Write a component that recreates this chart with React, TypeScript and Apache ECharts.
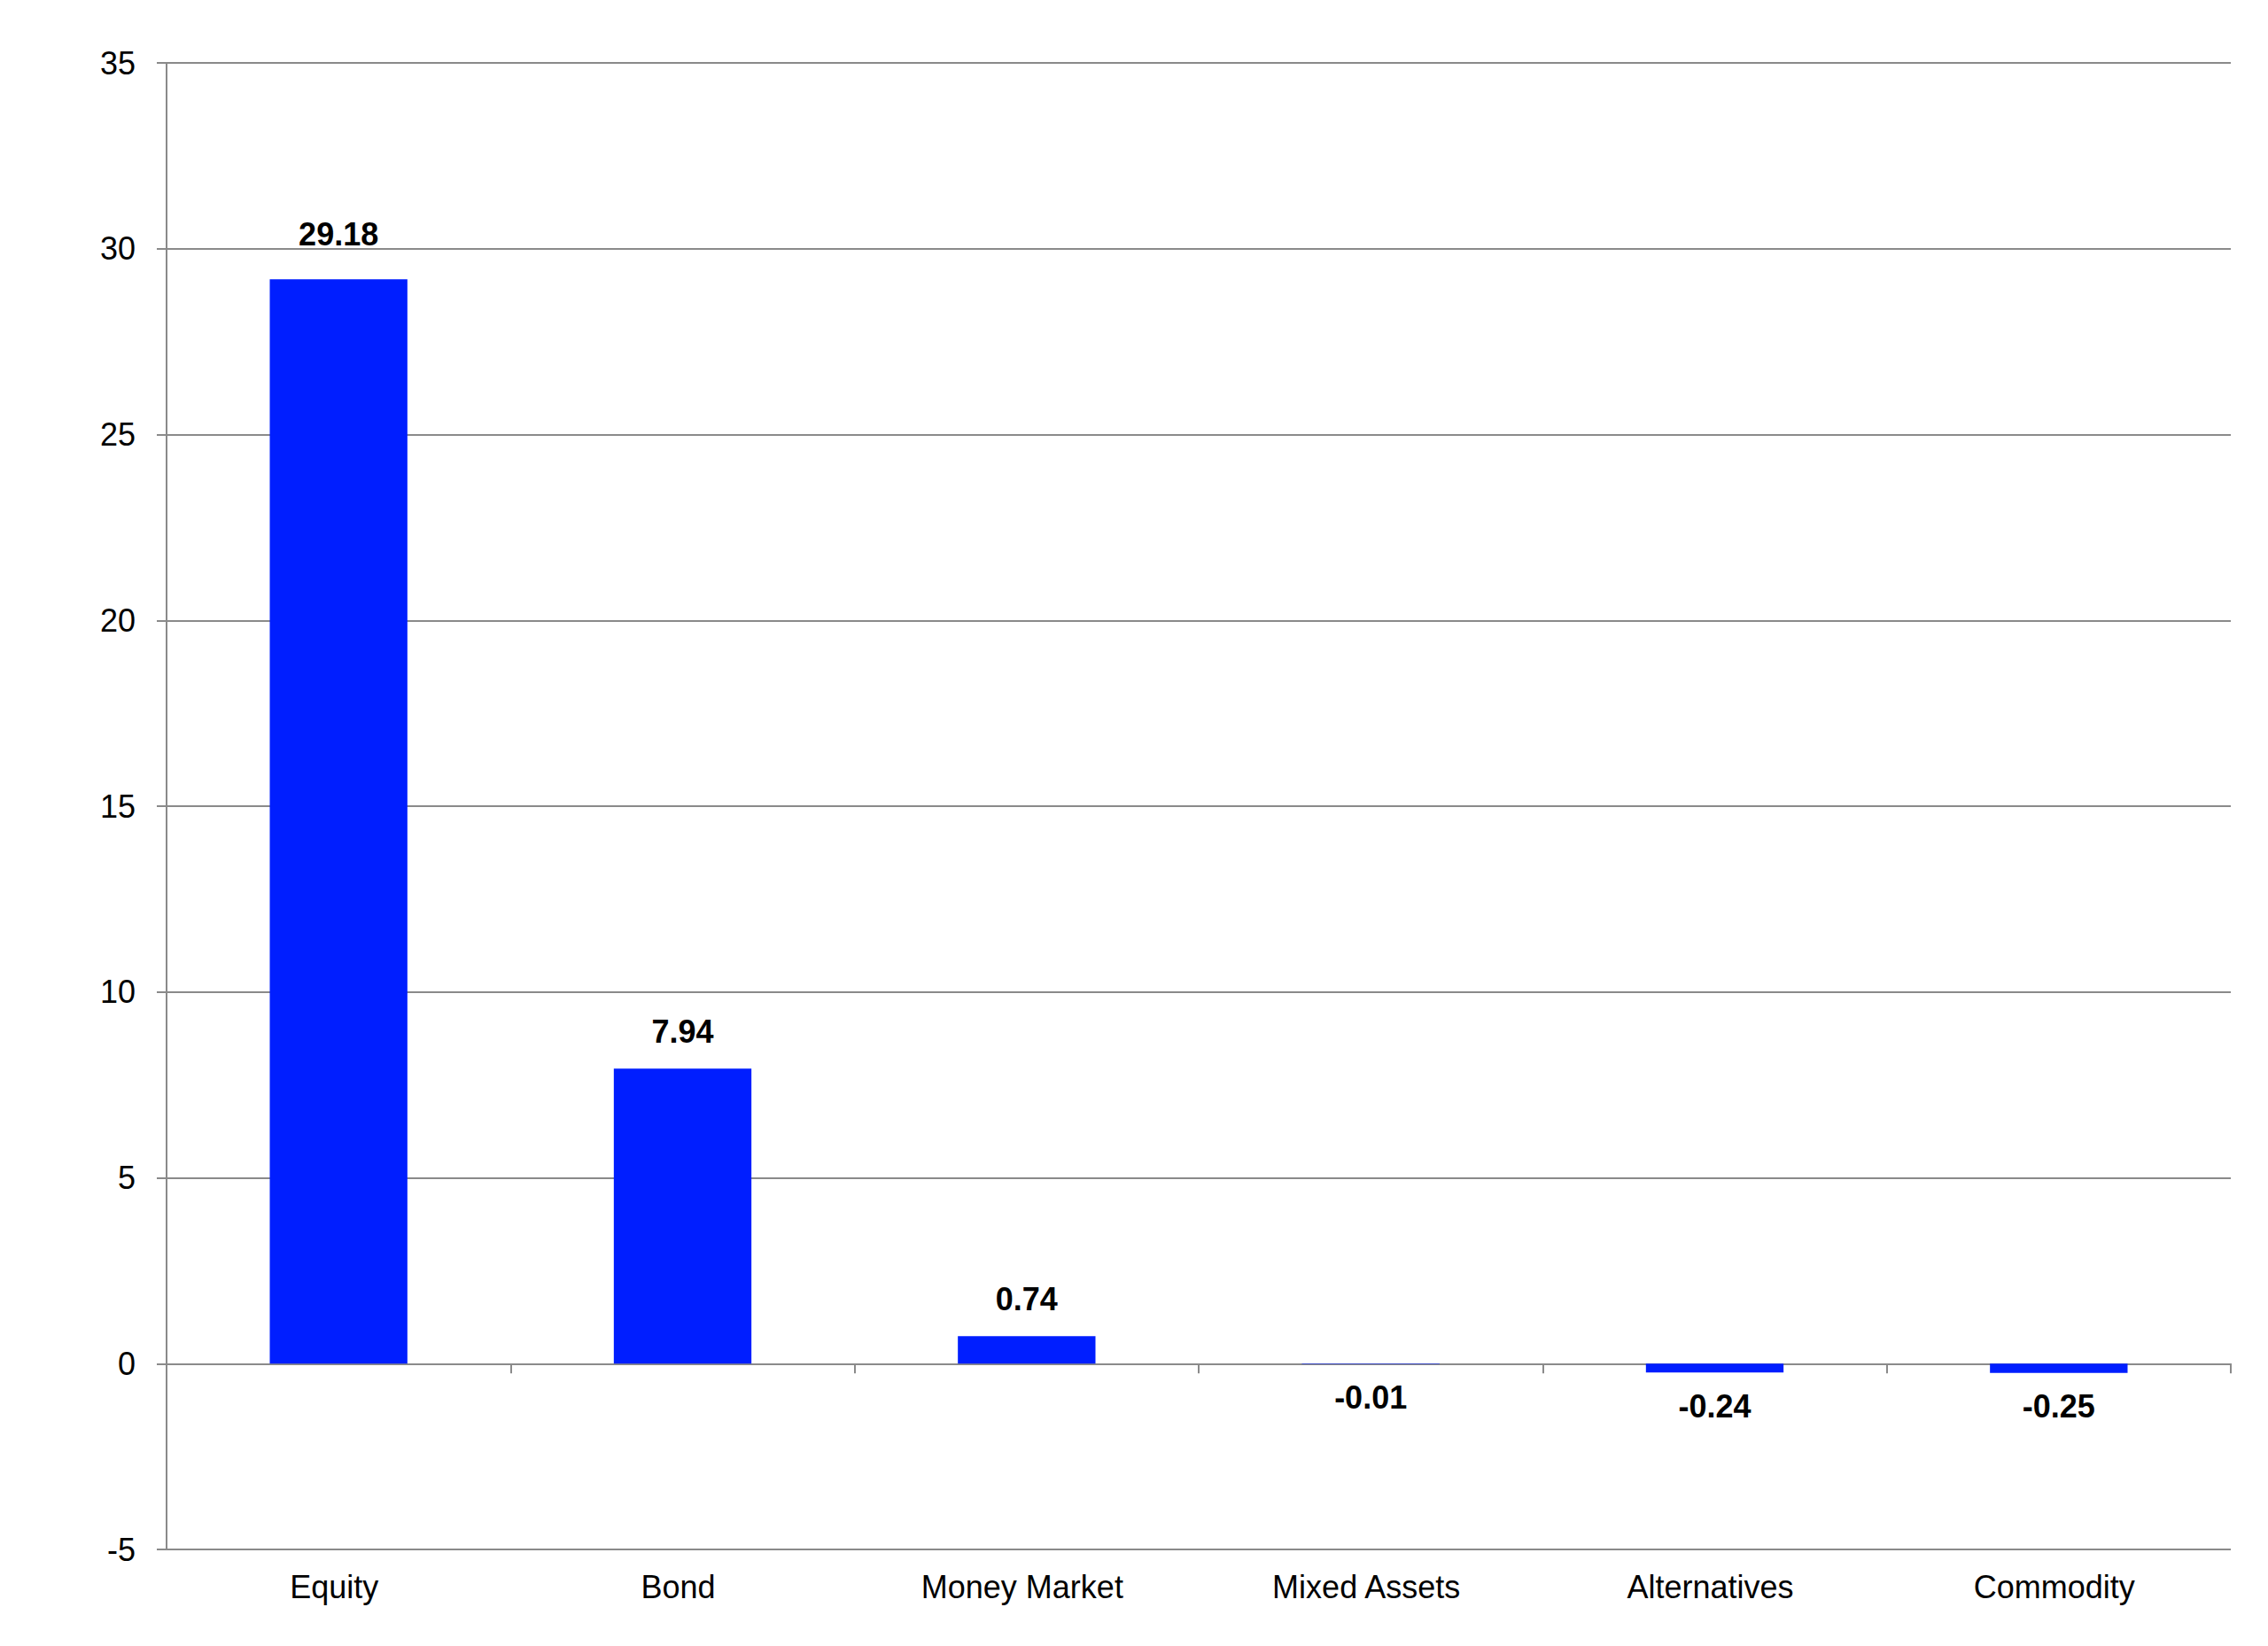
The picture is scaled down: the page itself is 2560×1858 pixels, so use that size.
import React, { useEffect, useRef } from "react";
import * as echarts from "echarts";

const categories = ["Equity", "Bond", "Money Market", "Mixed Assets", "Alternatives", "Commodity"];
const values = [29.18, 7.94, 0.74, -0.01, -0.24, -0.25];
const yMin = -5;
const yMax = 35;
const yStep = 5;

const FONT = "'Liberation Sans', Arial, sans-serif";
const GRID_COLOR = "#8a8a8a";
const BAR_COLOR = "#001eff";

export default function App() {
  const ref = useRef<HTMLDivElement>(null);
  useEffect(() => {
    document.body.style.margin = "0";
    const chart = echarts.init(ref.current!, undefined, { renderer: "svg" });
    chart.setOption({
      animation: false,
      backgroundColor: "#ffffff",
      grid: { left: 188, right: 42, top: 71, bottom: 109, containLabel: false },
      xAxis: [
        {
          type: "category",
          data: categories,
          axisLine: { show: true, onZero: true, lineStyle: { color: GRID_COLOR, width: 2 } },
          axisTick: { show: true, length: 11, alignWithLabel: false, lineStyle: { color: GRID_COLOR, width: 2 } },
          axisLabel: { show: false },
          splitLine: { show: false },
        },
        {
          type: "category",
          data: categories,
          position: "bottom",
          axisLine: { show: false, onZero: false },
          axisTick: { show: false },
          axisLabel: {
            show: true,
            margin: 24,
            fontSize: 36,
            color: "#000",
            fontFamily: FONT,
            padding: [0, 10, 0, 0],
          },
          splitLine: { show: false },
        },
      ],
      yAxis: {
        type: "value",
        min: yMin,
        max: yMax,
        interval: yStep,
        axisLine: { show: true, lineStyle: { color: GRID_COLOR, width: 2 } },
        axisTick: { show: true, length: 11, lineStyle: { color: GRID_COLOR, width: 2 } },
        axisLabel: { margin: 35, fontSize: 36, color: "#000", fontFamily: FONT },
        splitLine: { show: true, lineStyle: { color: GRID_COLOR, width: 2 } },
      },
      series: [
        {
          type: "bar",
          xAxisIndex: 0,
          barWidth: "40%",
          itemStyle: { color: BAR_COLOR },
          data: values.map((v, i) => ({
            value: v,
            label: {
              show: true,
              position: v >= 0 ? "top" : "bottom",
              distance: v >= 0 ? (i === 0 ? 33 : 24) : 20,
              fontSize: 36,
              fontWeight: "bold",
              color: "#000",
              fontFamily: FONT,
              formatter: (p: any) => Number(p.value).toFixed(2),
            },
          })),
        },
      ],
    });
    return () => chart.dispose();
  }, []);
  return (
    <div
      ref={ref}
      style={{ position: "absolute", left: 0, top: 0, width: 2560, height: 1858, background: "#fff" }}
    />
  );
}
